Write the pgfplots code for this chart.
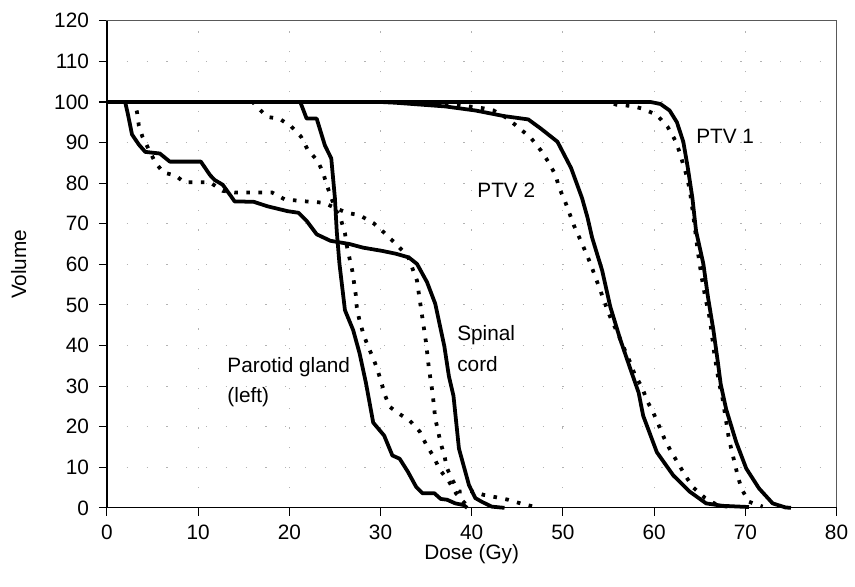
\documentclass[border=0pt]{standalone}
\usepackage{fontspec}
\setmainfont{Liberation Sans}
\usepackage{pgfplots}
\pgfplotsset{compat=1.18}
\begin{document}
\fontsize{21bp}{31bp}\selectfont
\begin{tikzpicture}
\begin{axis}[
  scale only axis, width=737bp, height=492bp,
  xmin=0, xmax=80, ymin=0, ymax=120,
  xtick={0,10,...,80}, ytick={0,10,...,120},
  tick align=outside, xtick pos=bottom, ytick pos=left,
  major tick length=8bp,
  tick style={black, line width=1.1bp},
  axis line style={draw=black!65, line width=1.1bp},
  grid=major,
  major grid style={draw=black!30, line width=1bp, dash pattern=on 1.3bp off 18.7bp},
  /pgf/number format/assume math mode=true,
  ticklabel style={font=\fontsize{21bp}{24bp}\selectfont},
  xticklabel style={yshift=-2bp},
  yticklabel style={xshift=-3bp},
  xlabel={Dose (Gy)}, ylabel={Volume},
  label style={font=\fontsize{21bp}{24bp}\selectfont},
  xlabel style={yshift=9bp},
  ylabel style={yshift=14bp},
  clip=false,
  solid/.style={black, line width=3.8bp, line join=round},
  dots/.style={black, line width=3.8bp, line cap=butt, dash pattern=on 3.6bp off 8.6bp},
]
% Parotid gland solid
\addplot[solid] coordinates {(0,100)(2,100)(2.3,97)(2.75,92)(3.5,89.5)(4.2,87.7)(5.8,87.3)(6.9,85.3)(10.3,85.3)(11.3,82)(11.8,80.8)(12.7,79.6)(13.6,76.8)(14,75.5)(16.1,75.4)(17.6,74.3)(19.8,73.1)(21,72.7)(21.9,70.7)(23,67.4)(24.5,65.8)(26.6,65)(28.1,64.1)(30.2,63.3)(31.7,62.6)(33.1,61.7)(34,60.1)(35.1,55.6)(36,50.3)(37,39.8)(37.5,32.4)(38,27.6)(38.6,14.6)(39.7,5.6)(40.4,2.4)(41.1,1.5)(42.2,0.3)(43.6,0)};
% Parotid gland dotted
\addplot[dots] coordinates {(0,100)(3,100)(3.3,97.5)(3.5,94.2)(3.9,91.4)(5.3,85.1)(6.2,82.6)(7.5,81.9)(8.5,80.2)(11.3,80.2)(12.7,78.1)(14,77.7)(18.1,77.7)(19.5,76)(22.3,75.4)(23.7,75.2)(26.3,72.7)(27.7,72.1)(29.2,70.2)(30.4,67.8)(31.7,65)(33,62)(33.5,59)(34,56)(34.2,52.8)(34.6,46.7)(35,40.6)(35.3,34.5)(35.7,28.4)(36,22)(36.3,19)(36.6,15.9)(37,12.9)(37.3,9.7)(37.9,6.8)(38.6,4)(40,4.1)(41.3,3.2)(42.7,2.6)(44,2)(45.5,1)(46.8,0.3)};
% Spinal cord solid
\addplot[solid] coordinates {(0,100)(21.2,100)(21.9,95.9)(23,95.9)(23.9,89.3)(24.6,86.1)(24.8,81.2)(25,76.3)(25.2,68.2)(25.5,60.1)(26.1,48.7)(27,43.8)(27.7,38.1)(28.4,30.8)(29.2,21)(30.4,17.8)(31.3,12.9)(32.1,12.1)(33,8.9)(33.9,5.2)(34.6,3.6)(35.9,3.6)(36.6,2.2)(37.3,2)(38.2,1.1)(39.1,0.7)(39.5,0)};
% Spinal cord dotted
\addplot[dots] coordinates {(0,100)(16,100)(16.3,99.1)(17.6,96.3)(18.9,95.9)(20.2,94)(21.3,91.4)(22,88.3)(23.1,85.5)(23.7,82.6)(24.1,79.6)(25,73.9)(25.7,70.7)(26.1,67.7)(26.3,64.6)(26.6,61.5)(26.9,58.5)(27.1,55.4)(27.3,52.3)(27.4,49.3)(27.7,46.1)(28.1,43)(28.6,39.9)(29.2,36.9)(29.7,33.8)(30.1,30.8)(30.5,27.7)(31,24.9)(32.1,23.1)(33.2,21.5)(34.3,18.8)(35,15.6)(35.8,12.7)(36.5,9.4)(37.5,6.5)(38.3,3.5)(39.5,0.5)};
% PTV 2 solid
\addplot[solid] coordinates {(0,100)(30,100)(31.7,99.8)(37.1,98.9)(40.4,97.9)(43.6,96.5)(46.2,95.7)(47.6,93.4)(49.4,90.2)(50.9,83.7)(52.1,76.3)(52.7,71.5)(53.2,66.6)(54.3,58.5)(55.2,49.5)(56.3,41.4)(57.4,34.2)(58.3,28.4)(58.8,22.7)(60.3,13.7)(62.1,8)(63.9,4)(65.7,1.1)(67.5,0.5)(70.4,0.2)};
% PTV 2 dotted
\addplot[dots] coordinates {(0,100)(36,100)(41.1,98.5)(42.4,97.9)(43.8,96.1)(45.2,93.6)(46.5,91.1)(47.6,88)(48.5,84.9)(49.2,81.9)(49.6,78.8)(50.2,75.7)(50.7,72.7)(51.2,69.6)(51.8,66.6)(52.4,63.5)(53,60.3)(53.5,57.2)(54,54.2)(54.5,51.1)(55,48)(55.6,45)(56.2,42)(56.8,38.8)(57.4,35.7)(57.9,32.7)(58.7,29.6)(59.2,26.5)(59.9,23.5)(60.5,20.4)(61.1,17.2)(61.8,14.1)(62.6,11.1)(63.4,8)(64.3,5)(65.6,2.4)(67,0.6)(68.4,0.2)};
% PTV 1 solid
\addplot[solid] coordinates {(0,100)(59.6,100)(60.7,99.5)(61.7,97.9)(62.5,95)(63.2,90.2)(63.7,83.7)(64.2,76.3)(64.6,68.2)(65.4,60.1)(65.9,52)(66.5,43.8)(67,35.7)(67.3,30.5)(67.9,24.3)(69,16.2)(70.1,9.7)(71.5,4.8)(73,1.1)(74.4,0.1)(75,0)};
% PTV 1 dotted
\addplot[dots] coordinates {(0,100)(55,100)(55.9,99.3)(57.6,99)(58.8,98.3)(60.3,96.8)(61.5,93.8)(62.3,90.6)(62.8,87.6)(63.2,84.5)(63.6,81.6)(63.9,78.4)(64.3,72)(64.8,63)(65.2,57)(65.6,52)(66.1,46.7)(66.6,38)(67.1,31)(67.5,27)(68.2,17)(69.2,7.6)(69.6,4.6)(70.4,1.5)(71.9,0.3)};
\draw[black, line width=1.3bp] (rel axis cs:0,1) -- (rel axis cs:0,0) -- (rel axis cs:1,0);
\node[anchor=west, inner sep=0pt] at (axis cs:64.6,91.5) {PTV 1};
\node[anchor=west, inner sep=0pt] at (axis cs:40.6,78.3) {PTV 2};
\node[anchor=west, inner sep=0pt, align=left] at (axis cs:38.4,39.2) {Spinal\\cord};
\node[anchor=west, inner sep=0pt, align=left] at (axis cs:13.2,31) {Parotid gland\\(left)};
\end{axis}
\path (current axis.south west) ++(-108bp,-79bp) rectangle ++(855bp,592bp);
\end{tikzpicture}
\end{document}
